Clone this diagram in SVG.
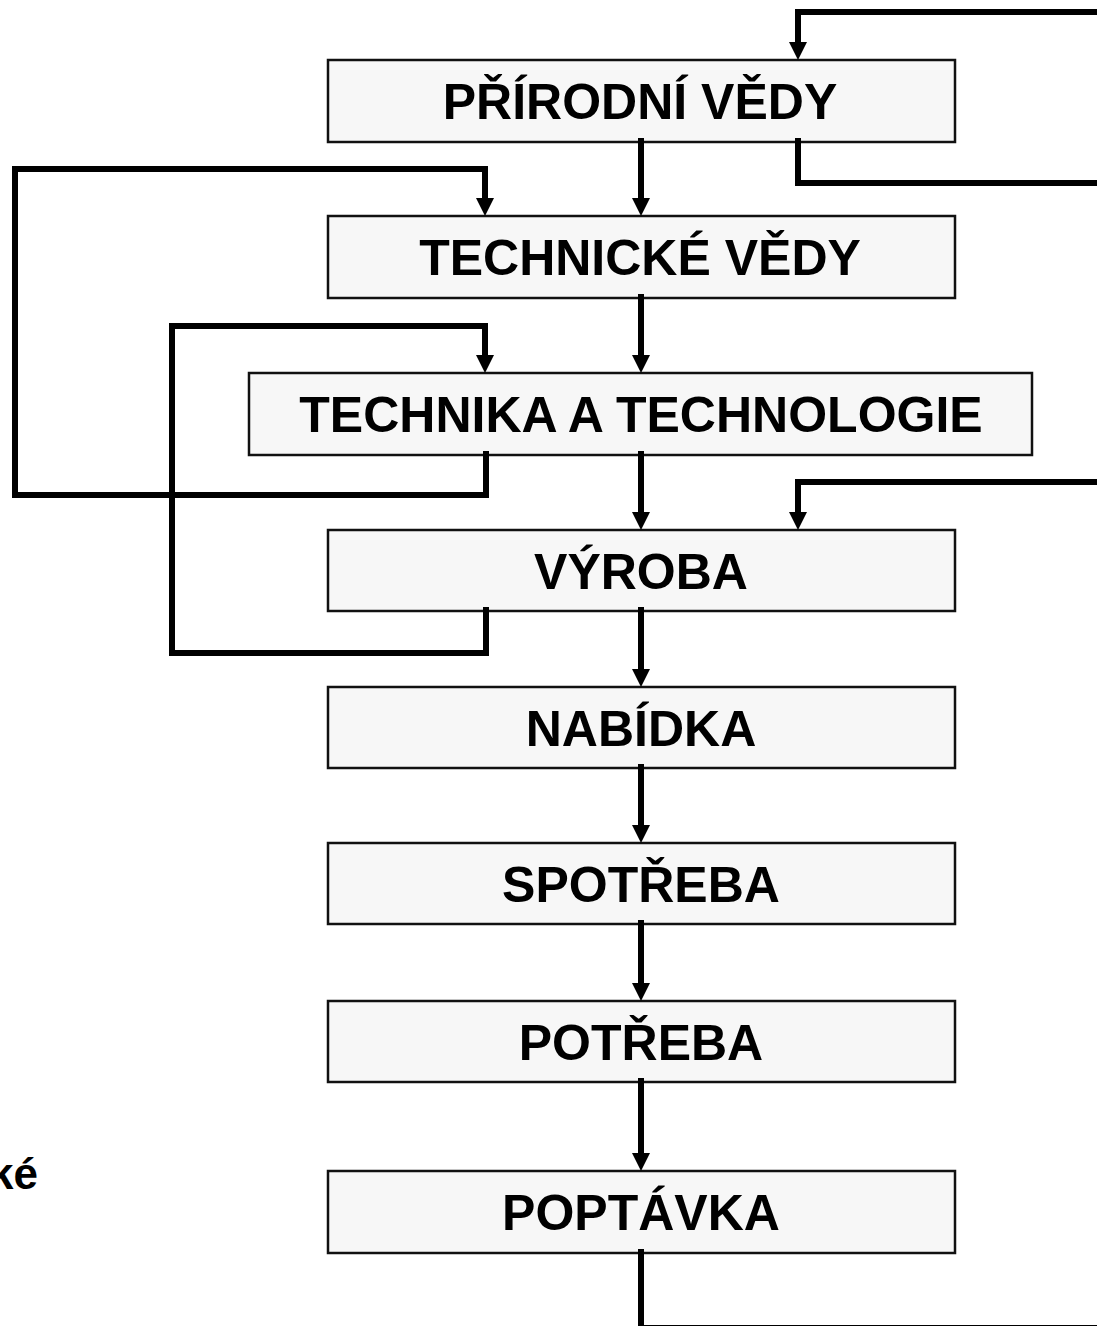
<svg xmlns="http://www.w3.org/2000/svg" width="1097" height="1326" viewBox="0 0 1097 1326">
<style>
.box{fill:#f7f7f7;stroke:#111;stroke-width:2.5}
.lbl{font-family:"Liberation Sans",Arial,sans-serif;font-weight:bold;font-size:50px;fill:#000;text-anchor:middle}
.con{fill:none;stroke:#000;stroke-width:6;stroke-linejoin:miter}
</style>
<defs>
<marker id="ah" markerUnits="userSpaceOnUse" markerWidth="18" markerHeight="18" viewBox="0 0 18 18" refX="0" refY="9" orient="auto">
<path d="M0,0 L18,9 L0,18 z" fill="#000"/>
</marker>
</defs>
<rect width="1097" height="1326" fill="#fff"/>
<g id="n1"><rect class="box" x="328" y="60" width="627" height="82"/><text class="lbl" x="640" y="119">PŘÍRODNÍ VĚDY</text></g>
<g id="n2"><rect class="box" x="328" y="216" width="627" height="82"/><text class="lbl" x="640" y="275">TECHNICKÉ VĚDY</text></g>
<g id="n3"><rect class="box" x="249" y="373" width="783" height="82"/><text class="lbl" x="641" y="432">TECHNIKA A TECHNOLOGIE</text></g>
<g id="n4"><rect class="box" x="328" y="530" width="627" height="81"/><text class="lbl" x="641" y="589">VÝROBA</text></g>
<g id="n5"><rect class="box" x="328" y="687" width="627" height="81"/><text class="lbl" x="641" y="746">NABÍDKA</text></g>
<g id="n6"><rect class="box" x="328" y="843" width="627" height="81"/><text class="lbl" x="641" y="902">SPOTŘEBA</text></g>
<g id="n7"><rect class="box" x="328" y="1001" width="627" height="81"/><text class="lbl" x="641" y="1060">POTŘEBA</text></g>
<g id="n8"><rect class="box" x="328" y="1171" width="627" height="82"/><text class="lbl" x="641" y="1230">POPTÁVKA</text></g>
<g id="side"><text x="38" y="1189" style="font-family:'Liberation Sans',Arial,sans-serif;font-weight:bold;font-size:44px;text-anchor:end">ké</text></g>
<g id="connectors">
<path class="con" marker-end="url(#ah)" d="M641,138 V198"/>
<path class="con" marker-end="url(#ah)" d="M641,294 V355"/>
<path class="con" marker-end="url(#ah)" d="M641,451 V512"/>
<path class="con" marker-end="url(#ah)" d="M641,607 V669"/>
<path class="con" marker-end="url(#ah)" d="M641,764 V825"/>
<path class="con" marker-end="url(#ah)" d="M641,920 V983"/>
<path class="con" marker-end="url(#ah)" d="M641,1078 V1153"/>
<path class="con" d="M641,1249 V1328 H1100"/>
<path class="con" marker-end="url(#ah)" d="M1100,12 H798 V42"/>
<path class="con" d="M798,138 V183 H1100"/>
<path class="con" marker-end="url(#ah)" d="M486,451 V495 H15 V169 H485 V198"/>
<path class="con" marker-end="url(#ah)" d="M486,607 V653 H172 V326 H485 V355"/>
<path class="con" marker-end="url(#ah)" d="M1100,482 H798 V512"/>
</g>
</svg>
